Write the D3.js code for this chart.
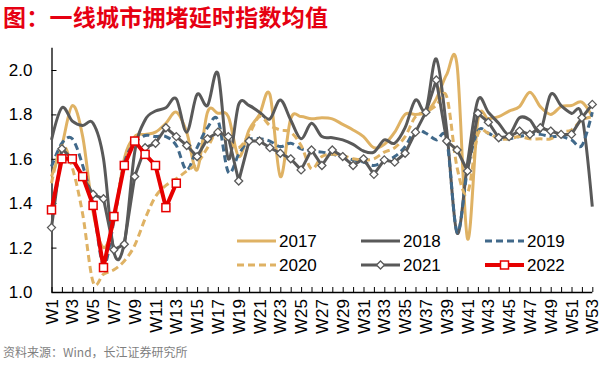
<!DOCTYPE html>
<html><head><meta charset="utf-8">
<script src="https://cdn.jsdelivr.net/npm/d3@7"></script>
<style>
html,body{margin:0;padding:0;background:#fff;}
svg{display:block;}
text{font-family:"Liberation Sans",Arial,sans-serif;}
</style></head>
<body>
<svg id="chart" width="601" height="368"></svg>
<script>
const weeks = d3.range(1, 54).map(i => "W" + i);
const yTicks = [1.0, 1.2, 1.4, 1.6, 1.8, 2.0];
const years = ["2017", "2018", "2019", "2020", "2021", "2022"];

const s2017 = [1.52,1.66,1.84,1.70,1.36,1.20,1.32,1.60,1.70,1.71,1.72,1.76,1.81,1.72,1.55,1.81,1.805,1.79,1.61,1.73,1.80,1.89,1.52,1.78,1.79,1.78,1.785,1.78,1.755,1.73,1.70,1.65,1.665,1.72,1.80,1.80,1.81,1.87,1.98,2.02,1.24,1.775,1.78,1.79,1.815,1.835,1.90,1.835,1.80,1.835,1.84,1.855,1.79];
const s2018 = [1.685,1.83,1.77,1.75,1.76,1.60,1.18,1.22,1.63,1.775,1.815,1.83,1.87,1.72,1.89,1.84,1.985,1.60,1.845,1.84,1.81,1.78,1.865,1.775,1.69,1.76,1.70,1.695,1.685,1.665,1.635,1.63,1.685,1.67,1.74,1.865,1.82,2.05,1.73,1.265,1.58,1.865,1.81,1.76,1.71,1.785,1.775,1.725,1.89,1.84,1.805,1.795,1.385];
const s2019 = [1.565,1.67,1.69,1.57,1.39,1.12,1.32,1.58,1.67,1.705,1.70,1.70,1.66,1.55,1.65,1.74,1.775,1.54,1.62,1.685,1.69,1.68,1.655,1.67,1.645,1.635,1.63,1.62,1.61,1.595,1.585,1.57,1.59,1.61,1.655,1.73,1.715,1.685,1.685,1.27,1.55,1.725,1.715,1.69,1.69,1.70,1.71,1.71,1.70,1.70,1.685,1.66,1.81];
const s2020 = [1.49,1.66,1.56,1.35,1.045,1.08,1.10,1.14,1.21,1.33,1.43,1.48,1.51,1.545,1.58,1.65,1.73,1.68,1.65,1.71,1.79,1.75,1.73,1.72,1.66,1.555,1.61,1.62,1.615,1.60,1.595,1.60,1.63,1.65,1.70,1.79,1.81,1.84,1.88,1.56,1.445,1.71,1.715,1.69,1.69,1.70,1.69,1.69,1.69,1.72,1.73,1.775,1.79];
const s2021 = [1.29,1.645,1.60,1.52,1.44,1.42,1.19,1.215,1.52,1.65,1.67,1.74,1.70,1.66,1.61,1.69,1.72,1.70,1.50,1.68,1.68,1.65,1.625,1.60,1.55,1.64,1.57,1.64,1.61,1.57,1.60,1.53,1.595,1.585,1.625,1.72,1.81,1.955,1.68,1.64,1.545,1.805,1.765,1.695,1.70,1.725,1.71,1.74,1.725,1.71,1.71,1.785,1.845];
const s2022 = [1.37,1.60,1.60,1.52,1.39,1.11,1.34,1.57,1.68,1.62,1.57,1.38,1.49];

const GOLD = "#DFB264", DARK = "#595959", BLUE = "#41698A", RED = "#E60000";
const series = [
  {name: years[0], values: s2017, color: GOLD, width: 3, dash: null, smooth: true},
  {name: years[1], values: s2018, color: DARK, width: 3, dash: null, smooth: true},
  {name: years[2], values: s2019, color: BLUE, width: 3, dash: "7,4", smooth: true},
  {name: years[3], values: s2020, color: GOLD, width: 3, dash: "7,4", smooth: true},
  {name: years[4], values: s2021, color: DARK, width: 3, dash: null, smooth: false, marker: "diamond"},
  {name: years[5], values: s2022, color: RED, width: 4, dash: null, smooth: false, marker: "square"}
];

const svg = d3.select("#chart");
const x = d3.scalePoint().domain(weeks).range([51.5, 592.3]);
const y = d3.scaleLinear().domain([1.0, 2.1]).range([292, 47.8]);

// title
svg.append("text").attr("x", 3).attr("y", 26)
  .attr("fill", "#E60012").attr("font-size", 23).attr("font-weight", "bold")
  .attr("textLength", 325).attr("lengthAdjust", "spacing")
  .style("font-family", "'Noto Sans CJK SC', sans-serif")
  .text("图：一线城市拥堵延时指数均值");

// source
svg.append("text").attr("x", 3).attr("y", 357)
  .attr("fill", "#7F7F7F").attr("font-size", 12)
  .style("font-family", "'Noto Sans CJK SC', sans-serif")
  .text("资料来源：Wind，长江证券研究所");

// y axis
const yAxis = d3.axisRight(y).tickValues(yTicks).tickSize(5).tickFormat(d3.format(".1f"));
const gy = svg.append("g").attr("transform", "translate(51.5,0)").call(yAxis);
gy.select(".domain").attr("d", `M0.5,${y(2.1)}V${y(1.0)}`).attr("stroke", "#000").attr("stroke-width", 1.3);
gy.selectAll(".tick line").attr("stroke", "#000");
gy.selectAll(".tick text").attr("x", -19).attr("text-anchor", "end")
  .attr("font-size", 17).attr("fill", "#000").style("font-family", "'Liberation Sans',Arial,sans-serif");

// x axis
const xAxis = d3.axisTop(x).tickSize(5).tickFormat(() => "");
const gx = svg.append("g").attr("transform", "translate(0,292)").call(xAxis);
gx.select(".domain").attr("d", `M${x("W1")},0.5H${x("W53")}`).attr("stroke", "#000").attr("stroke-width", 1.3);
gx.selectAll(".tick line").attr("stroke", "#000");
// x labels (every other week)
svg.append("g").selectAll("text")
  .data(weeks.filter((d, i) => i % 2 === 0))
  .join("text")
  .attr("transform", d => `translate(${x(d) + 6},299) rotate(-90)`)
  .attr("text-anchor", "end")
  .attr("font-size", 17).attr("fill", "#000")
  .text(d => d);

// lines
const plot = svg.append("g");
series.forEach(s => {
  const line = d3.line()
    .x((d, i) => x(weeks[i]))
    .y(d => y(d))
    .curve(s.smooth ? d3.curveCatmullRom.alpha(0) : d3.curveLinear);
  plot.append("path").datum(s.values)
    .attr("d", line)
    .attr("fill", "none")
    .attr("stroke", s.color)
    .attr("stroke-width", s.width)
    .attr("stroke-dasharray", s.dash)
    .attr("stroke-linejoin", "round");
  if (s.marker === "diamond") {
    plot.append("g").selectAll("path").data(s.values).join("path")
      .attr("transform", (d, i) => `translate(${x(weeks[i])},${y(d)})`)
      .attr("d", "M0,-4L4,0L0,4L-4,0Z")
      .attr("fill", "#fff").attr("stroke", s.color).attr("stroke-width", 1.3);
  }
  if (s.marker === "square") {
    plot.append("g").selectAll("rect").data(s.values).join("rect")
      .attr("x", (d, i) => x(weeks[i]) - 4)
      .attr("y", d => y(d) - 4)
      .attr("width", 8).attr("height", 8)
      .attr("fill", "#fff").attr("stroke", s.color).attr("stroke-width", 1.5);
  }
});

// legend
const legPos = [[237, 241], [361, 241], [485, 241], [237, 265], [361, 265], [485, 265]];
const leg = svg.append("g");
series.forEach((s, i) => {
  const [lx, ly] = legPos[i];
  leg.append("line").attr("x1", lx).attr("x2", lx + 39).attr("y1", ly).attr("y2", ly)
    .attr("stroke", s.color).attr("stroke-width", s.width)
    .attr("stroke-dasharray", s.dash);
  if (s.marker === "diamond") {
    leg.append("path").attr("transform", `translate(${lx + 19.5},${ly})`)
      .attr("d", "M0,-4L4,0L0,4L-4,0Z")
      .attr("fill", "#fff").attr("stroke", s.color).attr("stroke-width", 1.3);
  }
  if (s.marker === "square") {
    leg.append("rect").attr("x", lx + 15.5).attr("y", ly - 4).attr("width", 8).attr("height", 8)
      .attr("fill", "#fff").attr("stroke", s.color).attr("stroke-width", 1.5);
  }
  leg.append("text").attr("x", lx + 42).attr("y", ly + 6)
    .attr("font-size", 17).attr("fill", "#000").text(s.name);
});
</script>
</body></html>
